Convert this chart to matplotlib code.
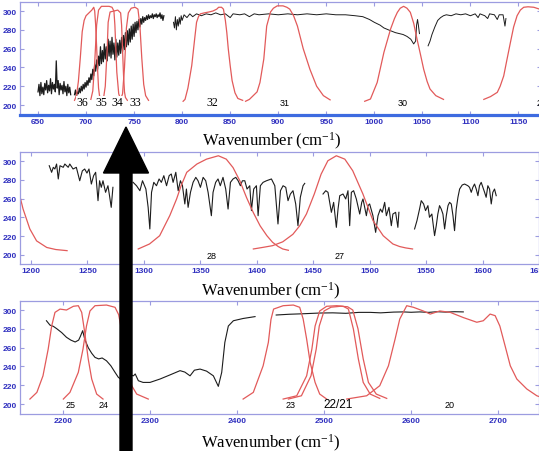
import matplotlib.pyplot as plt
from matplotlib.patches import FancyArrow

# ---- panel 1 (650 - 1150) ----
p1_black_a_x = list(range(650, 685))
p1_black_a_y = [214, 222, 210, 224, 212, 219, 211, 223, 216, 226, 213, 221, 215, 228, 212, 224, 217, 222,
                214, 247, 218, 226, 211, 223, 216, 221, 212, 225, 214, 220, 210, 222, 213, 219, 211]
p1_black_b_x = list(range(688, 782))
p1_black_b_y = [211, 216, 209, 214, 212, 218, 213, 220, 215, 222, 217, 224, 219, 226, 221, 229, 224, 233,
                227, 238, 231, 243, 236, 248, 238, 252, 242, 262, 244, 258, 246, 265, 249, 262, 247, 270,
                252, 268, 250, 272, 254, 266, 248, 270, 251, 266, 253, 269, 255, 272, 257, 274, 259, 277,
                262, 279, 264, 281, 267, 284, 270, 286, 273, 288, 277, 289, 280, 291, 283, 292, 286, 294,
                288, 293, 290, 295, 291, 296, 292, 295, 293, 297, 292, 296, 294, 297, 293, 296, 294, 298,
                292, 296, 290, 295]
p1_black_c_x = [791, 792, 793, 794, 795, 796, 797, 798, 799, 800, 802, 805, 808, 811, 815, 820, 825, 830,
                835, 840, 845, 850, 853, 860, 865, 870, 875, 880, 890, 900, 910, 920, 930, 940, 950, 960,
                970, 980, 988, 995, 1000, 1006, 1010, 1017, 1022, 1026, 1030, 1034, 1038, 1041, 1043,
                1044, 1045, 1046, 1047]
p1_black_c_y = [288, 282, 294, 280, 291, 284, 293, 286, 295, 290, 296, 293, 297, 294, 297, 295, 297, 296,
                298, 296, 297, 293, 297, 296, 297, 294, 297, 296, 297, 296, 297, 296, 297, 296, 297, 296,
                296, 295, 294, 291, 288, 285, 282, 279, 277, 276, 275, 273, 270, 265, 268, 285, 291, 284, 276]
p1_black_d_x = [1056, 1058, 1060, 1063, 1066, 1069, 1072, 1075, 1080, 1085, 1090, 1095, 1100, 1105, 1108,
                1110, 1115, 1118, 1120, 1125, 1128, 1130, 1134, 1136, 1137]
p1_black_d_y = [263, 268, 275, 283, 290, 293, 295, 296, 295, 297, 296, 297, 295, 297, 293, 297, 295, 292,
                297, 296, 291, 296, 296, 284, 292]

f36_x = [688, 690, 692, 694, 696, 698, 700, 703, 706, 708, 709, 710, 711, 712, 713, 714, 716]
f36_y = [205, 210, 225, 250, 278, 290, 295, 298, 301, 304, 300, 285, 262, 238, 218, 210, 206]
f35_x = [705, 707, 709, 711, 713, 716, 720, 724, 727, 729, 730, 731, 732, 734, 736]
f35_y = [206, 215, 245, 285, 301, 305, 305, 305, 304, 300, 285, 260, 235, 212, 206]
f34_x = [718, 720, 722, 723, 725, 729, 733, 736, 737, 738, 739, 740, 741, 743]
f34_y = [206, 220, 260, 288, 299, 300, 301, 298, 285, 258, 232, 214, 208, 205]
f33_x = [736, 738, 740, 742, 744, 747, 751, 754, 756, 758, 760, 762, 765]
f33_y = [206, 212, 240, 282, 298, 303, 304, 302, 285, 250, 222, 210, 205]
f32_x = [801, 803, 806, 810, 813, 815, 817, 819, 823, 828, 832, 836, 838, 841, 843, 845, 846.5, 848, 850,
         852, 855, 858, 863]
f32_y = [204, 206, 218, 242, 270, 288, 294, 297, 298, 299, 300, 302, 304, 304, 302, 290, 277, 260, 242,
         226, 213, 207, 205]
f31_x = [866, 870, 874, 878, 881, 885, 888, 892, 895, 899, 905, 909, 912, 916, 920, 926, 933, 940, 947, 954]
f31_y = [204, 206, 210, 214, 224, 249, 284, 299, 303, 305.5, 305.5, 304, 302, 295, 284, 260, 238, 220,
         210, 205.5]
f30_x = [990, 996, 1003, 1010, 1017, 1021, 1024, 1027, 1030.5, 1034, 1037.5, 1041, 1044.5, 1048, 1051.4,
         1055, 1058, 1064, 1072]
f30_y = [204, 206.4, 224, 256, 281, 292, 298.6, 303, 305, 303, 298.6, 287, 270, 254, 238, 225, 217, 210, 206]
f29_x = [1114, 1121, 1128, 1131, 1134.7, 1138, 1141.7, 1145, 1148.6, 1152, 1155.5, 1160, 1166, 1172, 1180]
f29_y = [206, 209, 213.5, 220, 231, 248, 266.7, 283, 295, 301, 304, 304.5, 304, 302, 300]

p1_labels = ['36', '35', '34', '33', '32', '31', '30', '29']
p1_label_x = [696, 716, 733, 751, 831, 907, 1030, 1174]

# ---- panel 2 (1200 - 1650) ----
p2_black_a_x = [1216.2, 1218.3, 1219.8, 1221.2, 1222.7, 1224.2, 1225.7, 1228.6, 1230, 1233, 1234.4, 1237.3,
                1240.2, 1243.2, 1245.5, 1247.6, 1249.6, 1251.4, 1253.5, 1255.5, 1257.3, 1259.4, 1260.8,
                1262.3, 1263.8, 1266.1, 1268.2, 1269.6, 1271.1, 1272.6]
p2_black_a_y = [295, 288, 293.3, 291.5, 296.8, 280.9, 295, 293.3, 296.8, 293.3, 296.8, 291.5, 293.3, 279,
                289.5, 291.5, 287.2, 291.5, 275.5, 284.4, 288, 257.8, 279, 272, 279, 266.7, 273.7, 263,
                250.7, 272]
p2_black_b_x = [1290.5, 1293.5, 1296.5, 1298.8, 1301.8, 1303.8, 1305.3, 1306.8, 1308.8, 1311.2, 1313.5,
                1315.5, 1317.7, 1320.1, 1322.4, 1324.3, 1325.9, 1328.3, 1330.4, 1332.4, 1334.2, 1336.3,
                1337.7, 1339.2, 1341.3, 1343.6, 1346, 1348, 1350.1, 1352.5, 1354.8, 1356.9, 1359.8, 1361.3,
                1363.6, 1365.7, 1367.7, 1370.1, 1372.5, 1374.6, 1376.7, 1379, 1381.4, 1383.5, 1385.5,
                1387.3, 1389.4, 1391.4, 1393.8, 1395.3, 1397.3, 1399.7, 1401.2, 1403.2, 1405.6, 1408.6,
                1413, 1416, 1418.8, 1421, 1423.3, 1425.7, 1427.7, 1429.8, 1432.1, 1434.5, 1436.5, 1438.6,
                1441, 1442.5]
p2_black_b_y = [277.3, 273.7, 268.4, 279, 270.2, 250.7, 227.7, 266.7, 277.3, 273.7, 280.9, 277.3, 284.4,
                273.7, 284.4, 286.2, 277.3, 288, 268.4, 279, 273.7, 254.3, 270.2, 250.7, 266.7, 277.3,
                282.6, 279, 272, 282.6, 279, 266.7, 241.8, 266.7, 277.3, 280.9, 273.7, 282.6, 270.2,
                248.9, 277.3, 280.9, 282.6, 279, 273.7, 279, 279, 270.2, 273.7, 247.2, 270.2, 273.7,
                241.8, 273.7, 277.3, 279, 280.9, 273.7, 233, 268.4, 273.7, 272, 257.8, 264.9, 268.4,
                254.3, 231.2, 261.4, 273.7, 276.2]
p2_black_c_x = [1458.7, 1461.1, 1463.1, 1466.1, 1468.1, 1470.5, 1472, 1473.5, 1476.4, 1478.8, 1480.8,
                1482.3, 1483.8, 1485.8, 1488.2, 1491.2, 1493, 1494.1, 1497.1, 1498.5, 1500, 1502.9, 1505.3,
                1507.4, 1509.5, 1511.2, 1513.3, 1514.8, 1517.1, 1519.2, 1520.6, 1523, 1525, 1525.9]
p2_black_c_y = [264.9, 268.4, 266.7, 245.4, 256, 229.4, 248.9, 263.1, 264.9, 259.6, 268.4, 231.2, 266.7,
                268.4, 259.6, 243.6, 256, 259.6, 241.8, 252.5, 254.3, 241.8, 224.1, 241.8, 248.9, 245.4,
                256, 241.8, 250.7, 231.2, 243.6, 245.4, 229.4, 245.4]
p2_black_d_x = [1539.8, 1541.9, 1544.2, 1545.7, 1547.8, 1549.5, 1551.6, 1553, 1555.1, 1557.5, 1559, 1560.4,
                1561.9, 1563.4, 1564.9, 1566.4, 1567.9, 1569.4, 1570.8, 1572.3, 1573.8, 1575.2, 1576.7,
                1578.2, 1579.7, 1582, 1584.1, 1587, 1588.5, 1590, 1591.4, 1592.9, 1594.4, 1595.9, 1597.3,
                1598.8, 1600.3, 1601.8, 1603.2, 1604.7, 1606.2, 1607.7, 1609.1, 1610.6, 1612.1]
p2_black_d_y = [227.7, 236.5, 248.9, 257.8, 254.3, 247.2, 252.5, 240.1, 243.6, 220.6, 231.2, 243.6, 252.5,
                248.9, 243.6, 227.7, 241.8, 252.5, 256, 254.3, 241.8, 225.9, 248.9, 261.4, 270.2, 274.5,
                275.5, 273.7, 272, 266.7, 272, 275.5, 270.2, 263.1, 273.7, 277.3, 272, 266.7, 261.4, 273.7,
                270.2, 254.3, 266.7, 270.2, 263.1]

f29b_x = [1189, 1193, 1199, 1205, 1214, 1222, 1232]
f29b_y = [268.4, 249, 227.7, 215, 208, 205.8, 204.6]
f28_x = [1295, 1305, 1314, 1323, 1329, 1333, 1338, 1347, 1355.5, 1366, 1373, 1379, 1385, 1391, 1397, 1403,
         1409, 1414, 1419, 1423, 1428]
f28_y = [206.4, 211.7, 220.5, 242, 259.6, 273.7, 288, 296.8, 302, 305.6, 302, 293, 279, 261, 245, 231,
         220.5, 213.5, 209, 206.4, 205]
f27_x = [1397, 1405, 1414, 1423, 1432, 1438, 1444, 1451, 1457, 1463, 1470.5, 1478, 1485, 1494, 1503, 1512,
         1520.6, 1526.5, 1532, 1538]
f27_y = [206.4, 208, 209.9, 214, 222, 231, 243.6, 265, 286, 300.3, 305.6, 302, 289.7, 265, 236.5, 220.5,
         211.7, 209, 207.5, 206.4]

p2_labels = ['28', '27']
p2_label_x = [1360, 1473]

# ---- panel 3 (2200 - 2700) ----
p3_black_a_x = [2181, 2185, 2189, 2193, 2198.5, 2204, 2209, 2214, 2218, 2220, 2222.6, 2225, 2229, 2233,
                2236.8, 2241, 2245, 2250, 2255, 2259.8, 2263.6, 2267, 2272, 2277, 2281, 2283, 2286.6, 2292,
                2300, 2311.5, 2323, 2334.5, 2340, 2346, 2351, 2357.5, 2365, 2372.8, 2378.5, 2382.4, 2386,
                2390, 2395.8, 2407, 2420.7]
p3_black_a_y = [288.6, 284, 282.6, 280, 276, 271, 268, 266, 268, 272, 278, 269, 260, 254, 249.6, 248, 249,
                246, 240.7, 233.7, 228.4, 226, 228, 231, 230, 232, 224.8, 223, 223, 226.6, 231, 235.5, 234,
                230, 236, 237.2, 235, 230, 218.8, 233.7, 265.6, 283, 288.6, 291, 293]
p3_black_b_x = [2445, 2460, 2475, 2495, 2510, 2525, 2540, 2553, 2565, 2580, 2591, 2600, 2610, 2620, 2630,
                2640, 2650, 2660]
p3_black_b_y = [294.7, 295.5, 296, 296.8, 297, 296.5, 297.5, 297.5, 297, 297.8, 298, 297.6, 298, 297.5,
                298.2, 297.8, 298.2, 298]

f25_x = [2162, 2170, 2177, 2183, 2187, 2190.8, 2196.6, 2204, 2212, 2217.6, 2221.5, 2225, 2229, 2233,
         2238.7, 2246]
f25_y = [205.3, 212.4, 230, 258.5, 283, 297.5, 301, 300, 304, 304.6, 297.5, 276, 248, 226.6, 210.6, 205.3]
f24_x = [2200.4, 2208, 2217.6, 2223, 2227, 2231, 2236.8, 2250, 2259.8, 2264, 2268, 2272, 2276, 2279,
         2284.7, 2298]
f24_y = [205.3, 212.4, 233.7, 258.5, 283, 299, 304.6, 305.3, 302.9, 295, 275, 250, 230, 219.5, 210.6, 205.3]
f23_x = [2407, 2418.7, 2430, 2436, 2439, 2442, 2453, 2464.7, 2472, 2476, 2480, 2484, 2489.7, 2495, 2503]
f23_y = [205.3, 212.4, 240.7, 265.6, 290, 301, 304.6, 305.3, 302.9, 290.4, 269, 244.4, 223, 210.6, 205.3]
f22_x = [2453, 2468.6, 2480, 2486, 2489.7, 2495, 2503, 2514.6, 2522, 2528, 2533.7, 2539.4, 2545, 2553, 2564]
f22_y = [205.3, 208.8, 230, 258.5, 283, 299, 304, 304.6, 304, 301, 279.8, 248, 223, 210.6, 206]
f21_x = [2459, 2474, 2485, 2491, 2494.5, 2500, 2508, 2519, 2527, 2533, 2539, 2545, 2551, 2560, 2572]
f21_y = [205.3, 208.8, 230, 258.5, 283, 299, 303, 304, 303.5, 300, 280, 248, 223, 210.6, 206]
f20_x = [2526, 2549, 2564, 2574, 2581.6, 2587, 2595, 2602.7, 2614, 2622, 2633, 2645, 2660, 2675.5, 2683,
         2690.8, 2696.6, 2702, 2708, 2714, 2721.5, 2733, 2744.5, 2750]
f20_y = [205.3, 208.8, 219.5, 240.7, 269, 290.4, 304.6, 302.9, 299, 295.7, 299, 297.5, 292, 287, 288.6,
         295.7, 294, 283, 262, 240.7, 226.6, 216, 208.8, 207]

p3_labels = ['25', '24', '23', '22/21', '20']
p3_label_x = [2209, 2247, 2461, 2516, 2644]

yticks = [200, 220, 240, 260, 280, 300]

FRAME = '#9c9ce0'
TICKC = '#2f2fbf'
RED = '#e25a5a'
BLK = '#1c1c1c'
W, H = 539.0, 452.0


def make_axes(left, top, right, bottom):
    ax = fig.add_axes([left / W, 1 - bottom / H, (right - left) / W, (bottom - top) / H])
    for s in ax.spines.values():
        s.set_color(FRAME)
        s.set_linewidth(0.9)
    ax.tick_params(direction='in', length=3, color=FRAME, top=True, right=True,
                   labelsize=6, labelcolor=TICKC, pad=2)
    ax.set_yticks(yticks)
    return ax


def finish(ax, label_y):
    for lab in ax.get_xticklabels() + ax.get_yticklabels():
        lab.set_fontweight('bold')
        lab.set_family('Liberation Sans')
    ax.set_xlabel('Wavenumber (cm$^{\\mathregular{-1}}$)', fontsize=12, family='Liberation Serif')
    ax.xaxis.set_label_coords(0.483, label_y)


plt.rcParams['mathtext.default'] = 'regular'
fig = plt.figure(figsize=(5.39, 4.52), dpi=100)

# panel 1
ax1 = make_axes(20, 3, 541, 116)
ax1.plot(p1_black_a_x, p1_black_a_y, color=BLK, lw=0.9)
ax1.plot(p1_black_b_x, p1_black_b_y, color=BLK, lw=0.9)
ax1.plot(p1_black_c_x, p1_black_c_y, color=BLK, lw=0.7)
ax1.plot(p1_black_d_x, p1_black_d_y, color=BLK, lw=0.7)
for fx, fy in [(f36_x, f36_y), (f35_x, f35_y), (f34_x, f34_y), (f33_x, f33_y), (f32_x, f32_y),
               (f31_x, f31_y), (f30_x, f30_y), (f29_x, f29_y)]:
    ax1.plot(fx, fy, color=RED, lw=0.9)
for i, (t, x) in enumerate(zip(p1_labels, p1_label_x)):
    if i < 5:
        ax1.text(x, 202.7, t, ha='center', va='center', fontsize=8.5, family='Liberation Serif',
                 bbox=dict(facecolor='white', edgecolor='none', pad=0.5), clip_on=False)
    else:
        ax1.text(x, 202.7, t, ha='center', va='center', fontsize=6.5, family='Liberation Sans',
                 clip_on=False)
ax1.set_xlim(631.25, 1173.5)
ax1.set_ylim(189.4, 309.6)
ax1.set_xticks([650, 700, 750, 800, 850, 900, 950, 1000, 1050, 1100, 1150])
ax1.spines['bottom'].set_color('#3d6be0')
ax1.spines['bottom'].set_linewidth(2.3)
finish(ax1, -0.135)

# panel 2
ax2 = make_axes(20, 153, 539, 265)
for bx, by in [(p2_black_a_x, p2_black_a_y), (p2_black_b_x, p2_black_b_y),
               (p2_black_c_x, p2_black_c_y), (p2_black_d_x, p2_black_d_y)]:
    ax2.plot(bx, by, color=BLK, lw=0.8)
for fx, fy in [(f29b_x, f29b_y), (f28_x, f28_y), (f27_x, f27_y)]:
    ax2.plot(fx, fy, color=RED, lw=0.9)
for t, x in zip(p2_labels, p2_label_x):
    ax2.text(x, 199, t, ha='center', va='center', fontsize=6.5, family='Liberation Sans')
ax2.set_xlim(1190.3, 1650)
ax2.set_ylim(190.4, 309.6)
ax2.set_xticks([1200, 1250, 1300, 1350, 1400, 1450, 1500, 1550, 1600, 1650])
finish(ax2, -0.145)

# panel 3
ax3 = make_axes(20, 302, 539, 415)
for bx, by in [(p3_black_a_x, p3_black_a_y), (p3_black_b_x, p3_black_b_y)]:
    ax3.plot(bx, by, color=BLK, lw=0.8)
for fx, fy in [(f25_x, f25_y), (f24_x, f24_y), (f23_x, f23_y), (f22_x, f22_y), (f21_x, f21_y),
               (f20_x, f20_y)]:
    ax3.plot(fx, fy, color=RED, lw=0.9)
for t, x in zip(p3_labels, p3_label_x):
    if t == '22/21':
        ax3.text(x, 200.5, t, ha='center', va='center', fontsize=8.5, family='Liberation Sans')
    else:
        ax3.text(x, 199, t, ha='center', va='center', fontsize=6.5, family='Liberation Sans')
ax3.set_xlim(2150.6, 2747)
ax3.set_ylim(189.4, 309.6)
ax3.set_xticks([2200, 2300, 2400, 2500, 2600, 2700])
finish(ax3, -0.16)

# big black arrow over everything
arrow = FancyArrow(126 / W, -0.01, 0, (1 - 128 / H) + 0.01, width=12 / W, head_width=45 / W,
                   head_length=46 / H, length_includes_head=True, transform=fig.transFigure,
                   color='black', zorder=10)
fig.add_artist(arrow)

fig.savefig('out.png', dpi=100)
